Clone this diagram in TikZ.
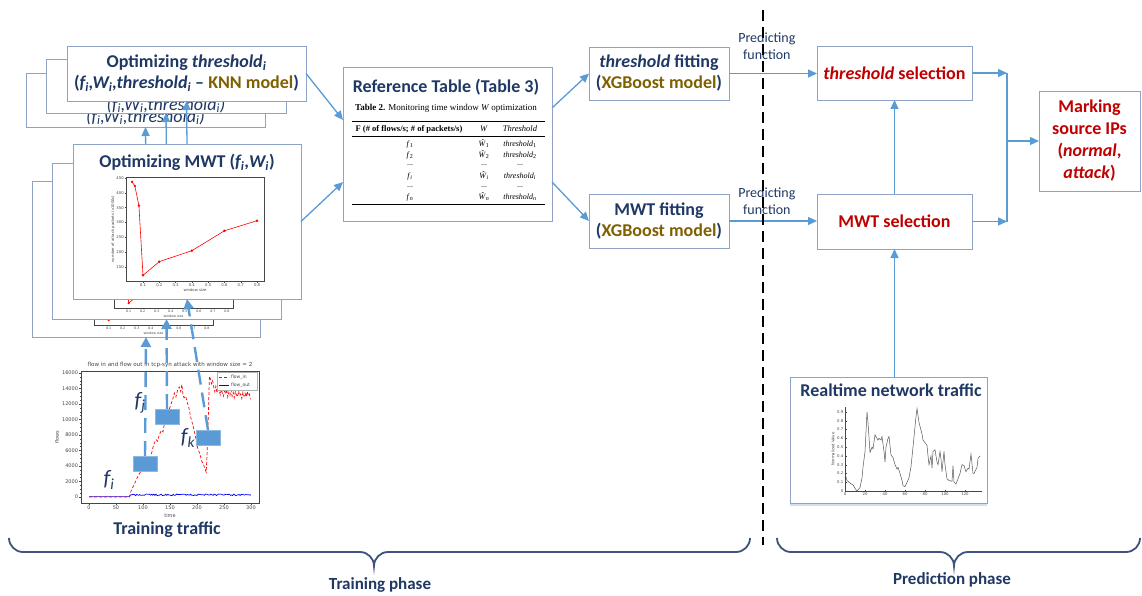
\documentclass[tikz,border=0pt]{standalone}
\usepackage{fontspec}
\setmainfont{Carlito}
\newfontfamily\plotfont{DejaVu Sans}
\newfontfamily\tabfont{Liberation Serif}
\usetikzlibrary{arrows.meta,shadows}

\definecolor{navy}{RGB}{31,56,100}
\definecolor{gold}{RGB}{127,96,0}
\definecolor{darkred}{RGB}{192,0,0}
\definecolor{arrc}{RGB}{91,155,213}
\definecolor{boxc}{RGB}{143,163,199}
\definecolor{bracec}{RGB}{62,82,125}
\definecolor{axisc}{RGB}{70,70,70}
\definecolor{curvec}{RGB}{85,85,85}

\newcommand\sub[1]{\textsubscript{#1}}

% attack packets vs. window size; local frame 138 x 104, y pointing down
% frame, x axis and curve
\newcommand\mwtchartbase[1]{%
  \draw[axisc, line width=0.5pt, fill=white] (0,0) rectangle (138,104);
  \foreach \t in {1,...,8}{%
    \pgfmathsetmacro\xx{0.7+16.29*\t}%
    \draw[axisc, line width=0.4pt] (\xx,104) -- (\xx,105.5);
    \node[tinylbl, anchor=north] (#1x\t) at (\xx,105.5) {0.\t};
  }
  \node[tinylbl] (#1xl) at (69,113) {window size};
  \begin{scope}[shift={(0.7,134.5)}, x=162.9pt, y=0.2967pt]
    \draw[red, line width=0.6pt, mark=*, mark size=0.9pt, mark options={fill=red}]
      plot coordinates {(0.033,437) (0.05,423) (0.075,357) (0.1,122) (0.2,168) (0.4,205) (0.6,272) (0.8,306)};
  \end{scope}
}
% y axis with its labels
\newcommand\mwtchartyaxis[1]{%
  \foreach \v in {150,200,...,450}{%
    \pgfmathsetmacro\yy{134.5-0.2967*\v}%
    \draw[axisc, line width=0.4pt] (0,\yy) -- (-1.5,\yy);
    \node[tinylbl, anchor=east] (#1y\v) at (-1.5,\yy) {\v};
  }
  \node[tinylbl, rotate=90] (#1yl) at (-13,52) {number of attack packets (x1000s)};
}

\begin{document}
\begin{tikzpicture}[x=1pt, y=-1pt,
  boxs/.style={draw=boxc, line width=0.9pt, fill=white, inner sep=2pt, outer sep=0pt, anchor=north west, align=center},
  ttl/.style={font=\fontsize{18}{21}\selectfont\bfseries, text=navy, align=center, inner sep=1pt},
  backttl/.style={font=\fontsize{18}{21}\selectfont\itshape, text=navy, align=center, inner sep=0pt},
  redttl/.style={font=\fontsize{18}{22}\selectfont\bfseries, text=darkred, align=center},
  predlbl/.style={font=\fontsize{14}{17}\selectfont, text=navy, align=center, inner sep=1pt},
  arr/.style={draw=arrc, line width=1.3pt, -{Triangle[length=9pt,width=8pt]}},
  darr/.style={draw=arrc, line width=2.4pt, dash pattern=on 15pt off 8pt, -{Triangle[length=10pt,width=10pt]}},
  tinylbl/.style={font=\plotfont\fontsize{3.8}{4.5}\selectfont, text=axisc, inner sep=0.6pt},
  smalllbl/.style={font=\plotfont\fontsize{5}{6}\selectfont, text=axisc, inner sep=0.8pt},
  tabtxt/.style={font=\tabfont\fontsize{8}{9}\selectfont, text=black, inner sep=0pt, anchor=base},
  blk/.style={fill=arrc, draw=arrc!70!white, line width=0.5pt, minimum width=24pt, minimum height=15pt, inner sep=0pt},
  flab/.style={font=\fontsize{22}{24}\selectfont\itshape, text=navy, inner sep=0pt},
  brace/.style={draw=bracec, line width=1.8pt},
  phase/.style={font=\fontsize{17}{20}\selectfont\bfseries, text=navy}
]
\useasboundingbox (0,0) rectangle (1142,596);

% ---------- stacked threshold / MWT optimisation boxes ----------
\node[boxs, minimum width=239pt, minimum height=54pt] (thr3) at (26,73) {};
\node[backttl] (thr3t) at (145.5,117) {(f\sub{i},W\sub{i},threshold\sub{i})};
\node[boxs, minimum width=228pt, minimum height=156pt] (mwt3) at (32,181) {};
\begin{scope}[shift={(94,235.4)}, scale=0.862, transform shape]
  \mwtchartbase{c3}
\end{scope}
\draw[arr] (mwt3.north) -- (thr3.south);

\node[boxs, minimum width=240pt, minimum height=54pt] (thr2) at (46,59) {};
\node[backttl] (thr2t) at (166,105) {(f\sub{i},W\sub{i},threshold\sub{i})};
\node[boxs, minimum width=229pt, minimum height=156pt] (mwt2) at (52,163) {};
\begin{scope}[shift={(114,218.4)}, scale=0.862, transform shape]
  \mwtchartbase{c2}
\end{scope}
\draw[arr] (mwt2.north) -- (thr2.south);

\node[boxs, ttl, minimum width=239pt, minimum height=55pt, inner sep=2pt] (thr1) at (67,46)
  {Optimizing {\itshape threshold\sub{i}}\\({\itshape f\sub{i},W\sub{i},threshold\sub{i}} -- \textcolor{gold}{KNN model})};
\node[boxs, minimum width=228pt, minimum height=155pt] (mwt1) at (73,144) {};
\node[ttl] (mwt1t) at (187,162) {Optimizing MWT ({\itshape f\sub{i}},{\itshape W\sub{i}})};
\begin{scope}[shift={(126,177)}]
  \mwtchartbase{c1}
  \mwtchartyaxis{c1}
\end{scope}
\draw[arr] (mwt1.north) -- (thr1.south);

% ---------- training traffic chart ----------
\node[smalllbl, font=\plotfont\fontsize{5.6}{7}\selectfont] (trtitle) at (170,365) {flow in and flow out in tcp-syn attack with window size = 2};
\draw[axisc, line width=0.5pt] (81,371) rectangle (259,503);
\foreach \m in {0,0.5,...,16}{\pgfmathsetmacro\yy{497-7.75*\m}\draw[axisc, line width=0.3pt] (81,\yy) -- (80,\yy);}
\foreach \m in {0,10,...,300}{\pgfmathsetmacro\xx{89+0.54*\m}\draw[axisc, line width=0.3pt] (\xx,503) -- (\xx,504);}
\foreach \v in {0,2,...,16}{%
  \pgfmathsetmacro\yy{497-7.75*\v}%
  \pgfmathtruncatemacro\vv{\v*1000}%
  \draw[axisc, line width=0.4pt] (81,\yy) -- (79,\yy);
  \node[smalllbl, anchor=east] (ty\v) at (79,\yy) {\vv};
}
\foreach \t in {0,50,...,300}{%
  \pgfmathsetmacro\xx{89+0.54*\t}%
  \draw[axisc, line width=0.4pt] (\xx,503) -- (\xx,505);
  \node[smalllbl, anchor=north] (tx\t) at (\xx,505) {\t};
}
\node[smalllbl] (trxl) at (170,516) {time};
\node[smalllbl, rotate=90] (tryl) at (57,437) {flows};
\begin{scope}[shift={(89,497)}, x=0.54pt, y=7.75pt]
  \draw[blue, line width=0.7pt] (0,0.05) -- (75,0.05) -- plot[domain=76:300, samples=113] (\x,{0.28+0.11*rand});
  \draw[red, line width=0.7pt, densely dashed] plot coordinates {
    (0,0) (75,0) (78,0.8) (85,1.8) (90,2.6) (95,3.2) (100,3.6) (105,4.3) (110,5.0) (113,4.6)
    (117,6.0) (120,6.8) (124,7.4) (127,7.2) (130,8.0) (134,8.6) (137,8.4) (140,9.6) (144,10.3)
    (148,11.2) (152,12.0) (155,12.6) (158,13.4) (161,12.9) (164,13.8) (167,14.2) (170,13.6)
    (172,14.5) (174,13.2) (176,12.8) (179,13.0) (182,12.2) (185,11.5) (188,10.4) (191,9.6)
    (194,8.8) (197,7.9) (200,6.6) (203,6.0) (206,5.4) (209,4.6) (212,4.2) (215,3.6) (217,3.2)
    (219,6.0) (221,10.5) (223,15.6) (225,15.2) (227,14.6) (229,15.0) (231,14.2) (233,13.6)
    (235,14.3) (237,13.4) (239,14.5) (241,13.8) (243,13.2) (245,13.9) (247,13.4) (249,13.0)
    (251,13.7) (253,13.3) (255,13.9) (257,12.9) (259,13.5) (261,13.1) (263,13.8) (265,13.0)
    (267,13.5) (269,12.8) (271,13.6) (273,13.2) (275,12.9) (277,13.7) (279,13.1) (281,13.3)
    (283,12.7) (285,13.5) (287,13.0) (289,13.4) (291,12.9) (293,13.6) (295,13.1) (297,13.3) (299,12.6)};
\end{scope}
% legend
\draw[gray!60, line width=0.3pt, fill=white] (217,372) rectangle (257,390);
\draw[red, line width=0.7pt, densely dashed] (219,377.5) -- (229,377.5);
\node[smalllbl, anchor=west, font=\plotfont\fontsize{4.5}{5}\selectfont] (lg1) at (230,377.5) {flow\_in};
\draw[blue, line width=0.7pt] (219,385) -- (229,385);
\node[smalllbl, anchor=west, font=\plotfont\fontsize{4.5}{5}\selectfont] (lg2) at (230,385) {flow\_out};

% sampled flow values feeding the MWT optimisation
\draw[darr] (145,456) -- (mwt3.south);
\draw[darr] (167,409) -- (mwt2.south);
\draw[darr] (208,430) -- (mwt1.south);
\node[blk] (r1) at (145,463.5) {};
\node[blk] (r2) at (167,417) {};
\node[blk] (r3) at (208,438) {};
\node[flab] (fi) at (109,480) {f\sub{i}};
\node[flab] (fj) at (140,403) {f\sub{j}};
\node[flab] (fk) at (188,438) {f\sub{k}};
\node[ttl] (trtraffic) at (167,530) {Training traffic};

% ---------- reference table ----------
\node[boxs, minimum width=209pt, minimum height=154pt] (reftab) at (343,67) {};
\node[ttl] (reftabt) at (446,87) {Reference Table (Table 3)};
\node[tabtxt, anchor=center, font=\tabfont\fontsize{9}{10}\selectfont] (tcap) at (446,108) {\textbf{Table 2.} Monitoring time window \textit{W} optimization};
\draw[black, line width=0.8pt] (352,121) -- (545,121);
\node[tabtxt, font=\tabfont\fontsize{8.5}{9}\selectfont] (h1) at (409,132) {\textbf{F (\# of flows/s; \# of packets/s)}};
\node[tabtxt, font=\tabfont\fontsize{8.5}{9}\selectfont] (h2) at (484,132) {\textit{W}};
\node[tabtxt, font=\tabfont\fontsize{8.5}{9}\selectfont] (h3) at (520,132) {\textit{Threshold}};
\draw[black, line width=0.4pt] (352,136) -- (545,136);
\node[tabtxt] (a1) at (410,146.5) {\textit{f}\sub{1}};
\node[tabtxt] (b1) at (484,146.5) {\textit{Ŵ}\sub{1}};
\node[tabtxt] (c1) at (520,146.5) {\textit{threshold}\sub{1}};
\node[tabtxt] (a2) at (410,157.2) {\textit{f}\sub{2}};
\node[tabtxt] (b2) at (484,157.2) {\textit{Ŵ}\sub{2}};
\node[tabtxt] (c2) at (520,157.2) {\textit{threshold}\sub{2}};
\node[tabtxt] (a3) at (410,166) {...};
\node[tabtxt] (b3) at (484,166) {...};
\node[tabtxt] (c3) at (520,166) {...};
\node[tabtxt] (a4) at (410,178.6) {\textit{f}\sub{\textit{i}}};
\node[tabtxt] (b4) at (484,178.6) {\textit{Ŵ}\sub{\textit{i}}};
\node[tabtxt] (c4) at (520,178.6) {\textit{threshold}\sub{\textit{i}}};
\node[tabtxt] (a5) at (410,188) {...};
\node[tabtxt] (b5) at (484,188) {...};
\node[tabtxt] (c5) at (520,188) {...};
\node[tabtxt] (a6) at (410,200) {\textit{f}\sub{\textit{n}}};
\node[tabtxt] (b6) at (484,200) {\textit{Ŵ}\sub{\textit{n}}};
\node[tabtxt] (c6) at (520,200) {\textit{threshold}\sub{\textit{n}}};
\draw[black, line width=0.8pt] (352,204) -- (545,204);

\draw[arr] (thr1.east) -- ([yshift=-53pt]reftab.north west);
\draw[arr] (mwt1.east) -- ([yshift=-115pt]reftab.north west);

% ---------- model fitting ----------
\node[boxs, ttl, minimum width=140pt, minimum height=53pt, inner sep=2pt] (thfit) at (589,47)
  {{\itshape threshold} fitting\\(\textcolor{gold}{XGBoost model})};
\node[boxs, ttl, minimum width=140pt, minimum height=54pt, inner sep=2pt] (mwtfit) at (589,194)
  {MWT fitting\\(\textcolor{gold}{XGBoost model})};
\draw[arr] ([yshift=-41pt]reftab.north east) -- (thfit.west);
\draw[arr] ([yshift=-115pt]reftab.north east) -- (mwtfit.west);

% ---------- prediction side ----------
\node[boxs, redttl, minimum width=155pt, minimum height=54pt] (thsel) at (817,46) {{\itshape threshold} selection};
\node[boxs, redttl, minimum width=155pt, minimum height=55pt] (mwtsel) at (817,194) {MWT selection};
\node[boxs, redttl, minimum width=101pt, minimum height=100pt] (mark) at (1039,91)
  {Marking\\source IPs\\({\itshape normal},\\{\itshape attack})};

\draw[arr] (thfit.east) -- node[predlbl, pos=0.43, above=12pt] (pf1) {Predicting\\function} (thfit.east -| thsel.west);
\draw[arr] (mwtfit.east) -- node[predlbl, pos=0.43, above=5pt] (pf2) {Predicting\\function} (mwtfit.east -| mwtsel.west);
\draw[arr] (mwtsel.north) -- (thsel.south);

\coordinate (j1) at (1007,73);
\coordinate (j2) at (1007,221.5);
\coordinate (j3) at (1007,141);
\draw[draw=arrc, line width=1.3pt] (j1) -- (j2);
\draw[arr] (thsel.east) -- (thsel.east -| j1);
\draw[arr] (mwtsel.east) -- (mwtsel.east -| j2);
\draw[arr] (j3) -- (j3 -| mark.west);

% realtime traffic
\node[boxs, minimum width=197pt, minimum height=126pt,
  drop shadow={shadow xshift=0pt, shadow yshift=-2.5pt, opacity=0.3, fill=arrc}] (realtime) at (790,377) {};
\node[ttl] (realtimet) at (891,390) {Realtime network traffic};
\draw[axisc, line width=0.4pt] (845,407) -- (845,491) -- (982,491);
\foreach \k/\lab in {0/0,1/0.1,2/0.2,3/0.3,4/0.4,5/0.5,6/0.6,7/0.7,8/0.8,9/0.9}{%
  \pgfmathsetmacro\yy{491-8.78*\k}%
  \draw[axisc, line width=0.3pt] (845,\yy) -- (846.5,\yy);
  \node[tinylbl, anchor=east] (ry\k) at (844,\yy) {\lab};
}
\foreach \t in {0,20,...,120}{%
  \draw[axisc, line width=0.3pt] (845+\t,491) -- (845+\t,489.5);
  \node[tinylbl, anchor=north] (rx\t) at (845+\t,492) {\t};
}
\node[tinylbl, rotate=90] (ryl) at (833,449) {Normalized Value};
\begin{scope}[shift={(845,491)}, x=1pt, y=87.8pt]
  \draw[curvec, line width=0.5pt] plot coordinates {
    (0,0.20) (2,0.12) (5,0.09) (8,0.07) (10,0.03) (12,0.0) (15,0.04) (17,0.15) (18,0.27) (20,0.45)
    (22,0.90) (23,0.78) (25,0.44) (27,0.50) (28,0.48) (30,0.64) (33,0.58) (34,0.60) (36,0.58)
    (37,0.62) (39,0.45) (40,0.33) (41,0.50) (43,0.60) (44,0.62) (46,0.41) (48,0.38) (50,0.30)
    (52,0.25) (53,0.27) (55,0.20) (57,0.12) (58,0.06) (60,0.05) (62,0.10) (64,0.15) (66,0.28)
    (68,0.50) (71,0.85) (72,0.94) (74,0.78) (77,0.65) (78,0.58) (80,0.55) (82,0.52) (83,0.40)
    (84,0.30) (86,0.40) (87,0.26) (88,0.45) (90,0.47) (92,0.33) (93,0.30) (95,0.45) (96,0.36)
    (97,0.22) (99,0.45) (100,0.30) (102,0.14) (104,0.12) (107,0.11) (108,0.29) (109,0.10)
    (111,0.08) (113,0.14) (115,0.20) (117,0.30) (119,0.29) (121,0.22) (123,0.26) (124,0.25)
    (126,0.42) (128,0.20) (129,0.20) (132,0.27) (133,0.37) (135,0.40)};
\end{scope}
\draw[arr] (mwtsel.south |- realtime.north) -- (mwtsel.south);

% ---------- phase separator and braces ----------
\coordinate (sepTop) at (763,10);
\coordinate (sepBot) at (763,545);
\draw[black, line width=1.8pt, dash pattern=on 11pt off 6pt] (sepTop) -- (sepBot);

\draw[brace] (9,538) .. controls (9,545.7) and (15.3,552) .. (23,552) -- (360,552)
  .. controls (367.7,552) and (374,558.3) .. (374,566)
  .. controls (374,558.3) and (380.3,552) .. (388,552) -- (736,552)
  .. controls (743.7,552) and (750,545.7) .. (750,538);
\draw[brace] (777,538) .. controls (777,545.7) and (783.3,552) .. (791,552) -- (940,552)
  .. controls (947.7,552) and (954,558.3) .. (954,566)
  .. controls (954,558.3) and (960.3,552) .. (968,552) -- (1126,552)
  .. controls (1133.7,552) and (1140,545.7) .. (1140,538);
\node[phase] (trphase) at (380,585) {Training phase};
\node[phase] (prphase) at (952,580) {Prediction phase};
\end{tikzpicture}
\end{document}
